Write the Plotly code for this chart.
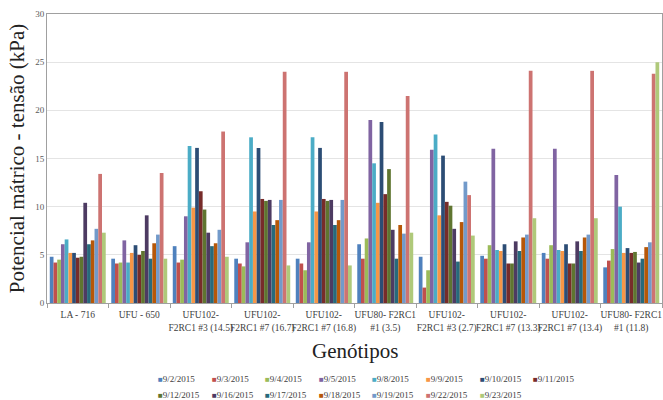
import plotly.graph_objects as go

categories = [
    "LA - 716", "UFU - 650", "UFU102-<br>F2RC1 #3 (14.5)", "UFU102-<br>F2RC1 #7 (16.7)",
    "UFU102-<br>F2RC1 #7 (16.8)", "UFU80- F2RC1<br>#1 (3.5)", "UFU102-<br>F2RC1 #3 (2.7)",
    "UFU102-<br>F2RC1 #7 (13.3)", "UFU102-<br>F2RC1 #7 (13.4)", "UFU80- F2RC1<br>#1 (11.8)",
]

dates = ["9/2/2015", "9/3/2015", "9/4/2015", "9/5/2015", "9/8/2015", "9/9/2015", "9/10/2015",
         "9/11/2015", "9/12/2015", "9/16/2015", "9/17/2015", "9/18/2015", "9/19/2015",
         "9/22/2015", "9/23/2015"]

colors = ["#4F81BD", "#C0504D", "#9BBB59", "#8064A2", "#4BACC6", "#F79646", "#2C4D75",
          "#772C2A", "#5F7530", "#4D3B62", "#276A7C", "#B65708", "#729ACA", "#CD7371", "#AFC97A"]

# values per genotype (rows) for each date (columns)
la716 = [4.8, 4.2, 4.5, 6.1, 6.6, 5.2, 5.2, 4.7, 4.8, 10.4, 6.1, 6.5, 7.7, 13.4, 7.3]
ufu650 = [4.6, 4.1, 4.2, 6.5, 4.2, 5.2, 6.0, 5.0, 5.4, 9.1, 4.6, 6.2, 7.1, 13.5, 4.6]
ufu102_3_145 = [5.9, 4.2, 4.5, 9.0, 16.3, 9.9, 16.1, 11.6, 9.7, 7.3, 5.9, 6.2, 7.6, 17.8, 4.8]
ufu102_7_167 = [4.6, 4.1, 3.8, 6.3, 17.2, 9.5, 16.1, 10.8, 10.6, 10.7, 8.1, 8.6, 10.7, 24.0, 3.9]
ufu102_7_168 = [4.6, 4.1, 3.4, 6.3, 17.2, 9.5, 16.1, 10.8, 10.6, 10.7, 8.1, 8.6, 10.7, 24.0, 3.9]
ufu80_1_35 = [6.1, 4.6, 6.7, 19.0, 14.5, 10.4, 18.8, 11.3, 13.9, 7.6, 4.6, 8.1, 7.2, 21.5, 7.3]
ufu102_3_27 = [4.8, 1.6, 3.4, 15.9, 17.5, 9.1, 15.3, 10.5, 10.1, 7.7, 4.3, 8.4, 12.6, 11.2, 7.0]
ufu102_7_133 = [4.9, 4.6, 6.0, 16.0, 5.5, 5.4, 6.1, 4.1, 4.1, 6.4, 5.4, 6.8, 7.1, 24.1, 8.8]
ufu102_7_134 = [5.2, 4.6, 6.0, 16.0, 5.5, 5.4, 6.1, 4.1, 4.1, 6.4, 5.4, 6.8, 7.1, 24.1, 8.8]
ufu80_1_118 = [3.7, 4.4, 5.6, 13.3, 10.0, 5.2, 5.7, 5.2, 5.3, 4.2, 4.6, 5.8, 6.3, 23.8, 25.0]

rows = [la716, ufu650, ufu102_3_145, ufu102_7_167, ufu102_7_168, ufu80_1_35,
        ufu102_3_27, ufu102_7_133, ufu102_7_134, ufu80_1_118]

serif = "Liberation Serif"
W, H = 663, 400
ML, MR, MT, MB = 47, 1, 14, 97
PW, PH = W - ML - MR, H - MT - MB


def px_x(x):  # screen px -> paper
    return (x - ML) / PW


def px_y(y):
    return (H - MB - y) / PH


fig = go.Figure()
for j, d in enumerate(dates):
    fig.add_trace(go.Bar(
        name=d, x=categories, y=[r[j] for r in rows],
        marker=dict(color=colors[j], line=dict(width=0)),
        showlegend=False,
    ))

# Excel-style legend: two rows of 8 / 7 items
annotations = []
col_x0, col_dx = 156, 53.6
row_y = [379, 395]
for j, d in enumerate(dates):
    r, c = divmod(j, 8)
    annotations.append(dict(
        xref="paper", yref="paper", x=px_x(col_x0 + c * col_dx), y=px_y(row_y[r]),
        xanchor="left", yanchor="middle", showarrow=False,
        text=f"<span style='color:{colors[j]};font-size:8px'>■</span>{d}",
        font=dict(family=serif, size=9, color="#404040"),
    ))
annotations.append(dict(
    xref="paper", yref="paper", x=px_x(355), y=px_y(351), xanchor="center", yanchor="middle",
    showarrow=False, text="Genótipos", font=dict(family=serif, size=21, color="#222"),
))

fig.update_layout(
    width=W, height=H,
    margin=dict(l=ML, r=MR, t=MT, b=MB, autoexpand=False),
    paper_bgcolor="white", plot_bgcolor="white",
    barmode="group", bargap=0.09, bargroupgap=0,
    font=dict(family=serif, color="#404040"),
    showlegend=False,
    annotations=annotations,
)
fig.update_xaxes(
    showline=True, linecolor="#A0A0A0", linewidth=1, mirror=True,
    ticks="outside", tickson="boundaries", ticklen=4, tickcolor="#A0A0A0",
    showgrid=False, tickangle=0, automargin=False, ticklabelstandoff=3,
    tickfont=dict(family=serif, size=9.5, color="#404040"),
)
fig.update_yaxes(
    range=[0, 30], dtick=5, showline=True, linecolor="#A0A0A0", linewidth=1, mirror=True,
    showgrid=True, gridcolor="#E4E4E4", gridwidth=1, zeroline=False, automargin=False,
    ticks="", tickfont=dict(family=serif, size=9, color="#595959"),
    title=dict(text="Potencial mátrico - tensão (kPa)", font=dict(family=serif, size=21, color="#222"), standoff=4),
)

fig.write_html(
    "out.html",
    config={"displayModeBar": False},
    post_script="document.body.style.margin='0';document.body.style.overflow='hidden';",
)
